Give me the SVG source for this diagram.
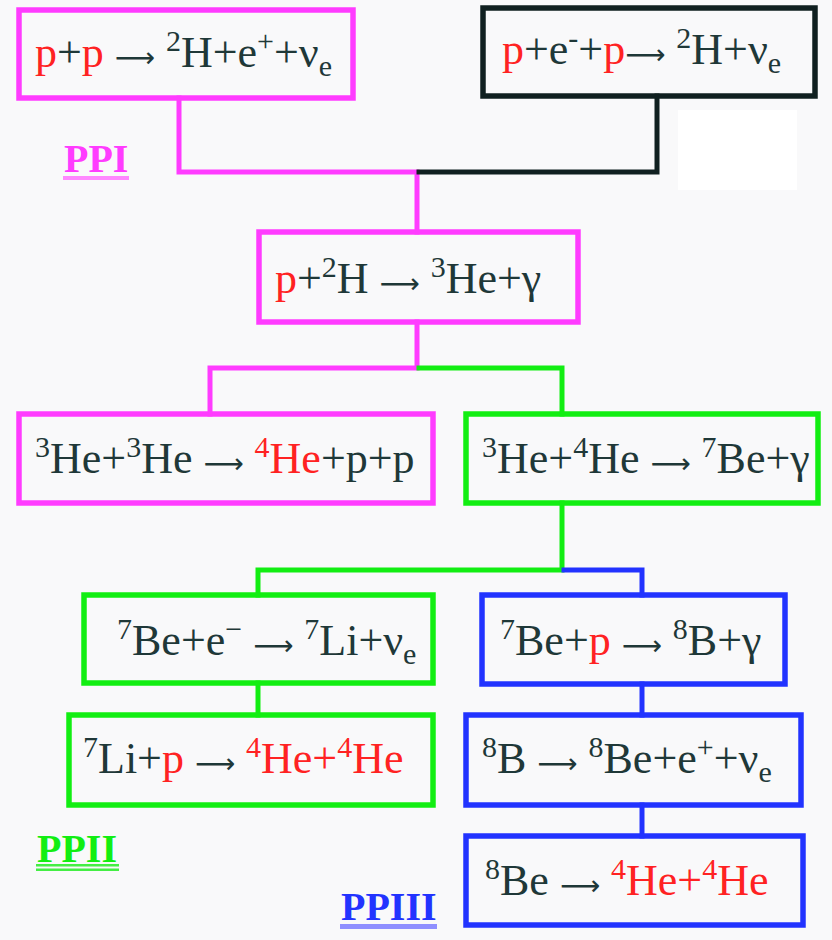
<svg xmlns="http://www.w3.org/2000/svg" width="832" height="940" viewBox="0 0 832 940">
  <style>
    .t { font-family: "Liberation Serif", "Times New Roman", serif; font-size: 44px; fill: #1f3838; }
    .r { fill: #ff2222; }
    .sup { font-size: 30px; }
    .ar { font-family: "DejaVu Sans", sans-serif; font-size: 28px; }
    .box { fill: none; stroke-width: 5.5; }
    .mag { stroke: #ff3cff; }
    .grn { stroke: #12ee12; }
    .blu { stroke: #2233ff; }
    .blk { stroke: #102020; }
    .wire { fill: none; stroke-width: 5; stroke-linejoin: miter; stroke-linecap: square; }
    .lbl { font-family: "Liberation Serif", "Times New Roman", serif; font-size: 40px; font-weight: bold; }
  </style>

  <rect x="0" y="0" width="832" height="940" fill="#f9f9fa"/>
  <rect x="678" y="110" width="119" height="80" fill="#ffffff"/>

  <!-- connectors -->
  <g id="connectors">
    <path class="wire mag" d="M179 98 V172 H417 V232"/>
    <path class="wire blk" d="M657 96 V172 H419"/>
    <path class="wire mag" d="M417 322 V368 H210 V414"/>
    <path class="wire grn" d="M419 368 H562 V414"/>
    <path class="wire grn" d="M562 503 V570 H258 V595"/>
    <path class="wire blu" d="M564 570 H642 V595"/>
    <path class="wire grn" d="M258 683 V715"/>
    <path class="wire blu" d="M642 684 V715"/>
    <path class="wire blu" d="M642 805 V836"/>
  </g>

  <!-- PPI chain -->
  <g id="pp-start">
    <rect class="box mag" x="19" y="10" width="334" height="88"/>
    <text class="t" x="35" y="67"><tspan class="r">p</tspan>+<tspan class="r">p</tspan> <tspan class="ar">⟶</tspan> <tspan class="sup" dy="-16">2</tspan><tspan dy="16">H+e</tspan><tspan class="sup" dy="-16">+</tspan><tspan dy="16">+ν</tspan><tspan class="sup" dy="9">e</tspan></text>
  </g>

  <g id="pep">
    <rect class="box blk" x="483" y="8" width="332" height="88"/>
    <text class="t" x="502" y="64"><tspan class="r">p</tspan>+e<tspan class="sup" dy="-16">-</tspan><tspan dy="16">+</tspan><tspan class="r">p</tspan><tspan class="ar">⟶</tspan> <tspan class="sup" dy="-16">2</tspan><tspan dy="16">H+ν</tspan><tspan class="sup" dy="9">e</tspan></text>
  </g>

  <g id="deuterium-capture">
    <rect class="box mag" x="259" y="232" width="319" height="90"/>
    <text class="t" x="275" y="293"><tspan class="r">p</tspan>+<tspan class="sup" dy="-16">2</tspan><tspan dy="16">H </tspan><tspan class="ar">⟶</tspan> <tspan class="sup" dy="-16">3</tspan><tspan dy="16">He+γ</tspan></text>
  </g>

  <g id="he3-he3">
    <rect class="box mag" x="19" y="414" width="414" height="89"/>
    <text class="t" x="35" y="473"><tspan class="sup" dy="-16">3</tspan><tspan dy="16">He+</tspan><tspan class="sup" dy="-16">3</tspan><tspan dy="16">He </tspan><tspan class="ar">⟶</tspan> <tspan class="sup r" dy="-16">4</tspan><tspan class="r" dy="16">He</tspan>+p+p</text>
  </g>

  <!-- PPII chain -->
  <g id="he3-he4">
    <rect class="box grn" x="466" y="414" width="352" height="89"/>
    <text class="t" x="482" y="473"><tspan class="sup" dy="-16">3</tspan><tspan dy="16">He+</tspan><tspan class="sup" dy="-16">4</tspan><tspan dy="16">He </tspan><tspan class="ar">⟶</tspan> <tspan class="sup" dy="-16">7</tspan><tspan dy="16">Be+γ</tspan></text>
  </g>

  <g id="be7-capture">
    <rect class="box grn" x="84" y="595" width="349" height="88"/>
    <text class="t" x="117" y="655"><tspan class="sup" dy="-16">7</tspan><tspan dy="16">Be+e</tspan><tspan class="sup" dy="-16">−</tspan><tspan dy="16"> </tspan><tspan class="ar">⟶</tspan> <tspan class="sup" dy="-16">7</tspan><tspan dy="16">Li+ν</tspan><tspan class="sup" dy="9">e</tspan></text>
  </g>

  <g id="li7-p">
    <rect class="box grn" x="69" y="715" width="364" height="90"/>
    <text class="t" x="83" y="773"><tspan class="sup" dy="-16">7</tspan><tspan dy="16">Li+</tspan><tspan class="r">p</tspan> <tspan class="ar">⟶</tspan> <tspan class="sup r" dy="-16">4</tspan><tspan class="r" dy="16">He+</tspan><tspan class="sup r" dy="-16">4</tspan><tspan class="r" dy="16">He</tspan></text>
  </g>

  <!-- PPIII chain -->
  <g id="be7-p">
    <rect class="box blu" x="482" y="595" width="303" height="89"/>
    <text class="t" x="500" y="655"><tspan class="sup" dy="-16">7</tspan><tspan dy="16">Be+</tspan><tspan class="r">p</tspan> <tspan class="ar">⟶</tspan> <tspan class="sup" dy="-16">8</tspan><tspan dy="16">B+γ</tspan></text>
  </g>

  <g id="b8-decay">
    <rect class="box blu" x="466" y="715" width="335" height="90"/>
    <text class="t" x="482" y="773"><tspan class="sup" dy="-16">8</tspan><tspan dy="16">B </tspan><tspan class="ar">⟶</tspan> <tspan class="sup" dy="-16">8</tspan><tspan dy="16">Be+e</tspan><tspan class="sup" dy="-16">+</tspan><tspan dy="16">+ν</tspan><tspan class="sup" dy="9">e</tspan></text>
  </g>

  <g id="be8-decay">
    <rect class="box blu" x="466" y="836" width="337" height="89"/>
    <text class="t" x="485" y="895"><tspan class="sup" dy="-16">8</tspan><tspan dy="16">Be </tspan><tspan class="ar">⟶</tspan> <tspan class="sup r" dy="-16">4</tspan><tspan class="r" dy="16">He+</tspan><tspan class="sup r" dy="-16">4</tspan><tspan class="r" dy="16">He</tspan></text>
  </g>

  <!-- chain labels -->
  <g id="label-ppi">
    <text class="lbl" x="64" y="172" fill="#ff3cff">PPI</text>
    <rect x="63" y="176" width="66" height="4" fill="#ff88ff"/>
  </g>
  <g id="label-ppii">
    <text class="lbl" x="37" y="862" fill="#12ee12">PPII</text>
    <rect x="36" y="864" width="83" height="2.5" fill="#44ee44"/>
    <rect x="36" y="868.5" width="83" height="2.5" fill="#44ee44"/>
  </g>
  <g id="label-ppiii">
    <text class="lbl" x="341" y="920" fill="#2233ff">PPIII</text>
    <rect x="340" y="924" width="97" height="5" fill="#8f8fff"/>
  </g>
</svg>
